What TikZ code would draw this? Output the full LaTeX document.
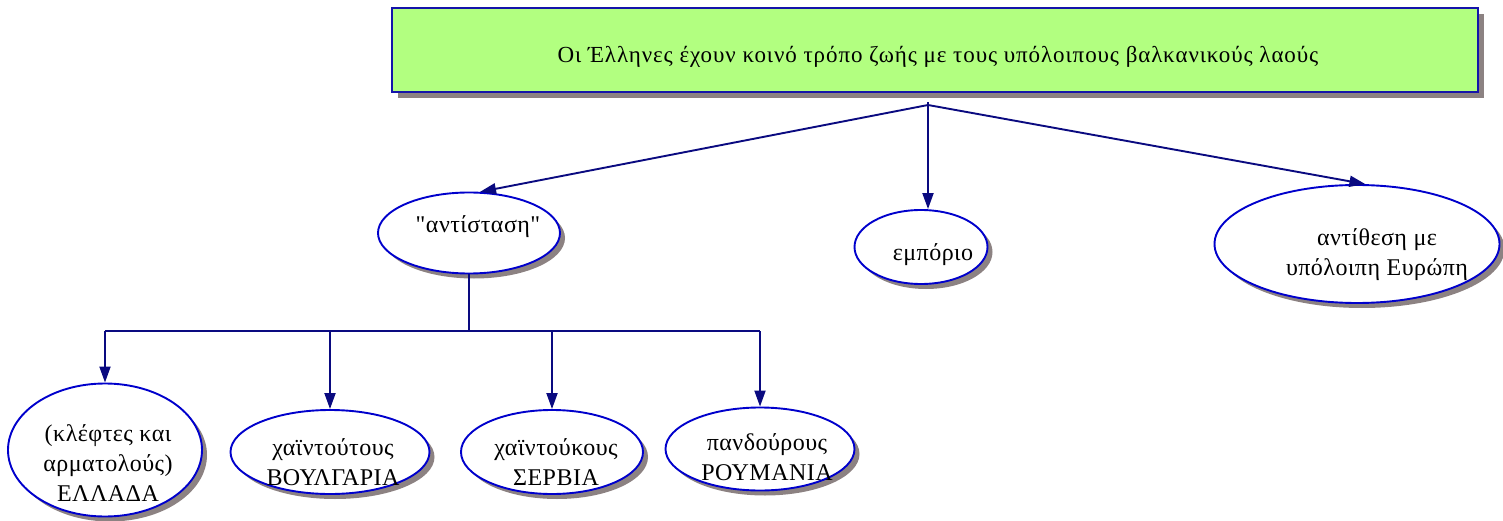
\documentclass[tikz,border=0pt]{standalone}
\usepackage{fontspec}
\setmainfont{Liberation Serif}
\newfontfamily\topfont[LetterSpace=4]{Liberation Serif}
\newfontfamily\ellfont[LetterSpace=2]{Liberation Serif}
\usetikzlibrary{shapes.geometric,shadows,arrows.meta}
\definecolor{navyline}{RGB}{10,10,128}
\definecolor{ellblue}{RGB}{0,0,204}
\definecolor{boxblue}{RGB}{20,20,170}
\definecolor{shadowgray}{RGB}{140,130,130}
\definecolor{boxgreen}{RGB}{178,255,128}
\begin{document}
\begin{tikzpicture}[x=1pt,y=-1pt,
  ell/.style={ellipse, draw=ellblue, line width=1.9pt, fill=white, inner sep=0pt,
    drop shadow={shadow xshift=5pt, shadow yshift=-5pt, fill=shadowgray, opacity=1}},
  txt/.style={align=center, font=\ellfont\fontsize{24}{30}\selectfont, inner sep=0pt},
  toptxt/.style={align=center, font=\topfont\fontsize{23}{28}\selectfont, inner sep=0pt},
  topbox/.style={rectangle, draw=boxblue, line width=1.8pt, fill=boxgreen, inner sep=0pt,
    drop shadow={shadow xshift=6pt, shadow yshift=-6pt, fill=shadowgray, opacity=1}},
  conn/.style={draw=navyline, line width=1.9pt, -{Triangle[length=16pt,width=11pt]}},
  plain/.style={draw=navyline, line width=1.9pt}]
\useasboundingbox (0,0) rectangle (1503,521);
% top box
\node[topbox, minimum width=1086pt, minimum height=84pt] (top) at (935,50) {};
\node[toptxt] (ttop) at (938,57) {Οι Έλληνες έχουν κοινό τρόπο ζωής με τους υπόλοιπους βαλκανικούς λαούς};
% second level
\node[ell, minimum width=182pt, minimum height=81pt] (anti) at (469,233) {};
\node[ell, minimum width=133pt, minimum height=74pt] (emp) at (921,247) {};
\node[ell, minimum width=285pt, minimum height=118pt] (eur) at (1357,244) {};
\node[txt] (tanti) at (478,227) {\char34αντίσταση\char34};
\node[txt] (temp) at (933,255) {εμπόριο};
\node[txt] (teur) at (1377,255) {αντίθεση με\\υπόλοιπη Ευρώπη};
% third level
\node[ell, minimum width=194pt, minimum height=133pt] (e1) at (105,450) {};
\node[ell, minimum width=199pt, minimum height=84pt] (e2) at (330,452) {};
\node[ell, minimum width=182pt, minimum height=84pt] (e3) at (552,452) {};
\node[ell, minimum width=189pt, minimum height=83pt] (e4) at (760,449) {};
\node[txt] (t1) at (108,463) {(κλέφτες και\\αρματολούς)\\ΕΛΛΑΔΑ};
\node[txt] (t2) at (333,462) {χαϊντούτους\\ΒΟΥΛΓΑΡΙΑ};
\node[txt] (t3) at (556,462) {χαϊντούκους\\ΣΕΡΒΙΑ};
\node[txt] (t4) at (767,457) {πανδούρους\\ΡΟΥΜΑΝΙΑ};
% connectors from top
\coordinate (j) at (928,105);
\draw[plain] (j) -- ++(0,-3);
\draw[conn] (j) -- (anti.75);
\draw[conn] (j) -- (j |- emp.north);
\draw[conn] (j) -- (eur.82);
% tree under antistasi
\coordinate (bar) at (472,331);
\draw[plain] (anti.south) -- (anti.south |- bar);
\draw[plain] (e1.north |- bar) -- (e4.north |- bar);
\draw[conn] (e1.north |- bar) -- (e1.north);
\draw[conn] (e2.north |- bar) -- (e2.north);
\draw[conn] (e3.north |- bar) -- (e3.north);
\draw[conn] (e4.north |- bar) -- (e4.north);
\end{tikzpicture}
\end{document}
